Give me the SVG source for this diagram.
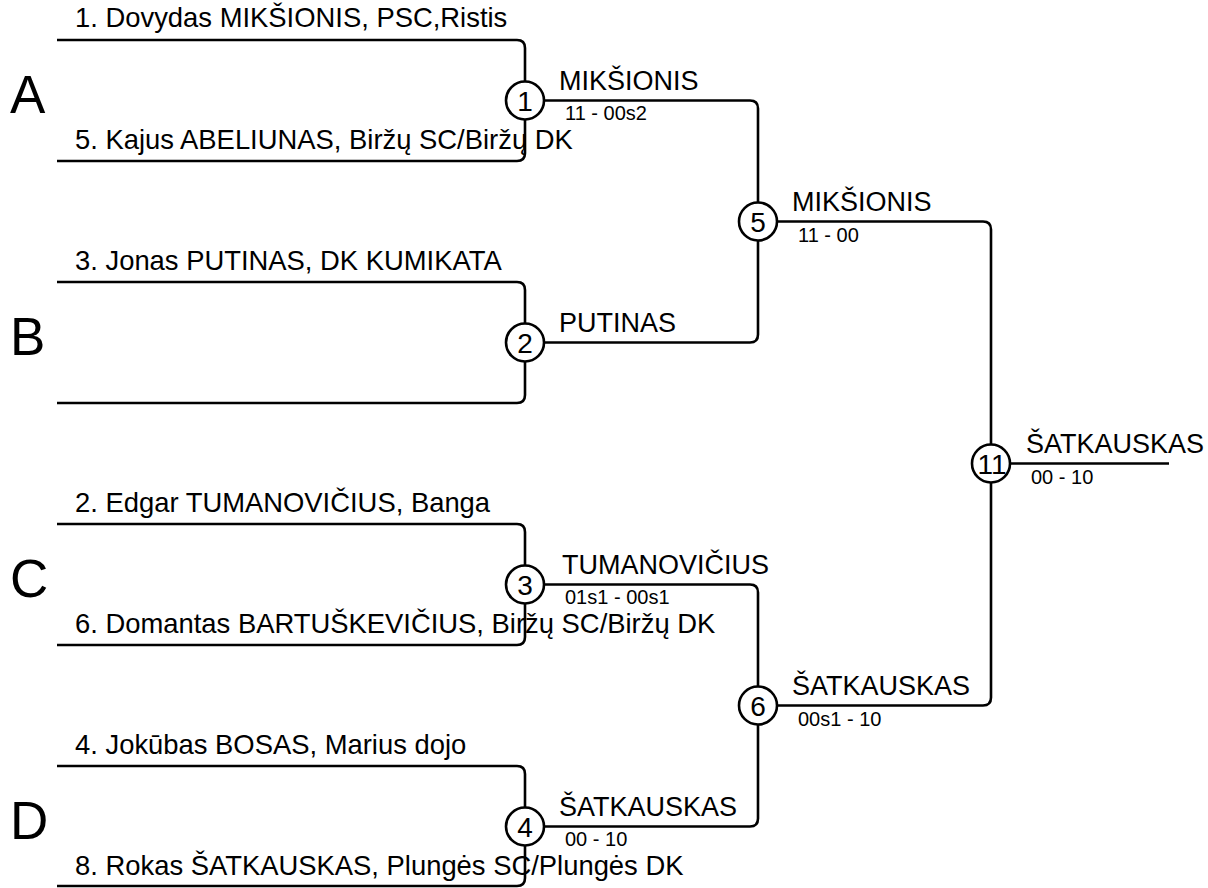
<svg xmlns="http://www.w3.org/2000/svg" width="1208" height="888" viewBox="0 0 1208 888">
<style>
.bg{fill:#ffffff}
.ln{fill:none;stroke:#000;stroke-width:2.6;stroke-linejoin:round}
.nd{fill:#fff;stroke:#000;stroke-width:2.6}
text{font-family:"Liberation Sans",Arial,sans-serif;fill:#000}
.pl{font-size:27.4px}
.lb{font-size:27px}
.sc{font-size:20px}
.num{font-size:28px;text-anchor:middle}
.grp{font-size:53px}
</style>
<rect class="bg" x="0" y="0" width="1208" height="888"/>
<g id="groups">
<text class="grp" x="10" y="113">A</text>
<text class="grp" x="10" y="355">B</text>
<text class="grp" x="10" y="597">C</text>
<text class="grp" x="10" y="839">D</text>
</g>
<g id="player-1"><text class="pl" x="75" y="27">1. Dovydas MIKŠIONIS, PSC,Ristis</text></g>
<g id="player-5"><text class="pl" x="75" y="148.5">5. Kajus ABELIUNAS, Biržų SC/Biržų DK</text></g>
<g id="player-3"><text class="pl" x="75" y="269.5">3. Jonas PUTINAS, DK KUMIKATA</text></g>
<g id="player-2"><text class="pl" x="75" y="511.5">2. Edgar TUMANOVIČIUS, Banga</text></g>
<g id="player-6"><text class="pl" x="75" y="632.5">6. Domantas BARTUŠKEVIČIUS, Biržų SC/Biržų DK</text></g>
<g id="player-4"><text class="pl" x="75" y="753.5">4. Jokūbas BOSAS, Marius dojo</text></g>
<g id="player-8"><text class="pl" x="75" y="874.5">8. Rokas ŠATKAUSKAS, Plungės SC/Plungės DK</text></g>
<g id="connectors">
<path class="ln" d="M57,40 H517 Q525,40 525,48 V100.5"/>
<path class="ln" d="M57,161 H517 Q525,161 525,153 V100.5"/>
<path class="ln" d="M57,282 H517 Q525,282 525,290 V342.5"/>
<path class="ln" d="M57,403 H517 Q525,403 525,395 V342.5"/>
<path class="ln" d="M57,524 H517 Q525,524 525,532 V584.5"/>
<path class="ln" d="M57,645 H517 Q525,645 525,637 V584.5"/>
<path class="ln" d="M57,766 H517 Q525,766 525,774 V826.5"/>
<path class="ln" d="M57,886 H517 Q525,886 525,878 V826.5"/>
<path class="ln" d="M525,100.5 H750 Q758,100.5 758,108.5 V221.5"/>
<path class="ln" d="M525,342.5 H750 Q758,342.5 758,334.5 V221.5"/>
<path class="ln" d="M525,584.5 H750 Q758,584.5 758,592.5 V705.5"/>
<path class="ln" d="M525,826.5 H750 Q758,826.5 758,818.5 V705.5"/>
<path class="ln" d="M758,221.5 H983 Q991,221.5 991,229.5 V463.5"/>
<path class="ln" d="M758,705.5 H983 Q991,705.5 991,697.5 V463.5"/>
<path class="ln" d="M991,463.5 H1169"/>
</g>
<g id="match-1">
<circle class="nd" cx="525" cy="100.5" r="19"/>
<text class="num" x="525" y="111">1</text>
<text class="lb" x="559" y="89.5">MIKŠIONIS</text>
<text class="sc" x="565" y="120">11 - 00s2</text>
</g>
<g id="match-2">
<circle class="nd" cx="525" cy="342.5" r="19"/>
<text class="num" x="525" y="353">2</text>
<text class="lb" x="559" y="331.5">PUTINAS</text>
</g>
<g id="match-3">
<circle class="nd" cx="525" cy="584.5" r="19"/>
<text class="num" x="525" y="595">3</text>
<text class="lb" x="562" y="573.5">TUMANOVIČIUS</text>
<text class="sc" x="565" y="604">01s1 - 00s1</text>
</g>
<g id="match-4">
<circle class="nd" cx="525" cy="826.5" r="19"/>
<text class="num" x="525" y="837">4</text>
<text class="lb" x="559" y="815.5">ŠATKAUSKAS</text>
<text class="sc" x="565" y="846">00 - 10</text>
</g>
<g id="match-5">
<circle class="nd" cx="758" cy="221.5" r="19"/>
<text class="num" x="758" y="232">5</text>
<text class="lb" x="792" y="210.5">MIKŠIONIS</text>
<text class="sc" x="798" y="241.5">11 - 00</text>
</g>
<g id="match-6">
<circle class="nd" cx="758" cy="705.5" r="19"/>
<text class="num" x="758" y="716">6</text>
<text class="lb" x="792" y="694.5">ŠATKAUSKAS</text>
<text class="sc" x="798" y="725.5">00s1 - 10</text>
</g>
<g id="match-11">
<circle class="nd" cx="991" cy="463.5" r="19"/>
<text class="num" x="992" y="474">11</text>
<text class="lb" x="1026" y="452.5">ŠATKAUSKAS</text>
<text class="sc" x="1031" y="483.5">00 - 10</text>
</g>
</svg>
